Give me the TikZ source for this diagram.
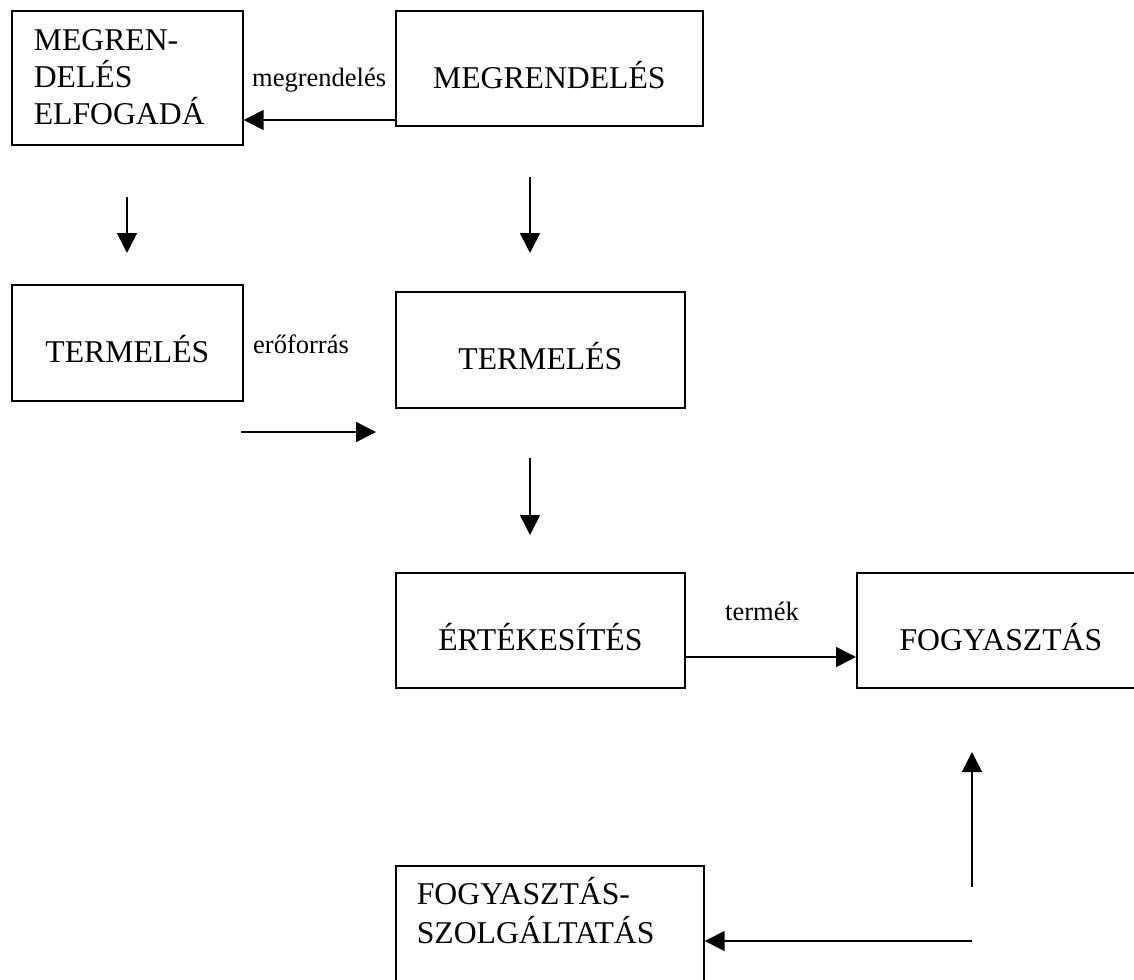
\documentclass[tikz,border=0pt]{standalone}
\usepackage{fontspec}
\setmainfont{Liberation Serif}
\usetikzlibrary{arrows.meta}
% left-aligned block of lines, first baseline is the reference point
\newcommand{\leftlines}[3]{\hbox to #1{\vtop{\baselineskip=#2\relax #3}\hfil}}
\begin{document}
\begin{tikzpicture}[x=1pt,y=-1pt,
  box/.style={draw, line width=1.7pt, rectangle, inner sep=0pt, anchor=north west,
              font=\fontsize{31.7pt}{38pt}\selectfont},
  oneline/.style={box, text height=40pt, text depth=0pt},
  flow/.style={line width=1.6pt, -{Triangle[length=20pt,width=20pt]}},
  tag/.style={inner sep=0pt, anchor=base west, font=\fontsize{26.5pt}{32pt}\selectfont}]
\useasboundingbox (0,0) rectangle (1134,979);
\clip (0,0) rectangle (1134,979);

% boxes
\node[box, minimum width=231pt, minimum height=134pt, text height=0pt, text depth=54pt]
  (accept) at (11,10) {\leftlines{187pt}{37pt}{\hbox{MEGREN-}\hbox{DELÉS}\hbox{ELFOGADÁ}}};
\node[oneline, minimum width=307pt, minimum height=115pt] (order) at (395,10) {MEGRENDELÉS};
\node[oneline, minimum width=231pt, minimum height=116pt] (prodL) at (11,284) {TERMELÉS};
\node[oneline, minimum width=289pt, minimum height=116pt] (prodM) at (395,291) {TERMELÉS};
\node[oneline, minimum width=289pt, minimum height=115pt] (sales) at (395,572) {ÉRTÉKESÍTÉS};
\node[oneline, minimum width=288pt, minimum height=115pt] (consume) at (856,572) {FOGYASZTÁS};
\node[box, minimum width=308pt, minimum height=135pt, text height=0pt, text depth=57pt]
  (service) at (395,865) {\leftlines{266pt}{39pt}{\hbox{FOGYASZTÁS-}\hbox{SZOLGÁLTATÁS}}};

% labels
\node[tag] (lblorder) at (252,87) {megrendelés};
\node[tag] (lblres) at (253,353) {erőforrás};
\node[tag] (lblprod) at (725,620) {termék};

% free arrow ends
\coordinate (rowA) at (0,120);
\coordinate (rowB) at (0,657);
\coordinate (rowC) at (0,941);
\coordinate (dLa) at (127,197);  \coordinate (dLb) at (127,253);
\coordinate (dMa) at (530,177);  \coordinate (dMb) at (530,253);
\coordinate (rRa) at (241,432);  \coordinate (rRb) at (376,432);
\coordinate (dNa) at (530,458);  \coordinate (dNb) at (530,535);
\coordinate (uPa) at (972,887);  \coordinate (uPb) at (972,752);
\coordinate (lFa) at (972,941);

% connectors
\draw[flow] (order.west |- rowA) -- (accept.east |- rowA);
\draw[flow] (dLa) -- (dLb);
\draw[flow] (dMa) -- (dMb);
\draw[flow] (rRa) -- (rRb);
\draw[flow] (dNa) -- (dNb);
\draw[flow] (sales.east |- rowB) -- (consume.west |- rowB);
\draw[flow] (uPa) -- (uPb);
\draw[flow] (lFa) -- (service.east |- rowC);
\end{tikzpicture}
\end{document}
